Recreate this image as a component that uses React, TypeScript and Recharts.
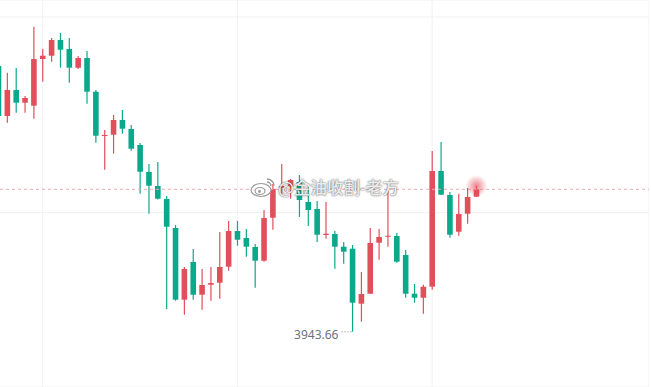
import { ComposedChart, Bar, XAxis, YAxis, CartesianGrid, ReferenceLine, ReferenceDot } from "recharts";

// hourly candles, oldest first
const opens = [
  4076.51, 4051.51, 4064.51, 4058.16, 4056.66, 4080.01, 4081.66, 4089.51, 4085.01, 4075.66,
  4080.51, 4063.66, 4041.66, 4042.16, 4049.51, 4045.01, 4037.01, 4023.51, 4016.51, 4010.01,
  3995.51, 3959.66, 3978.51, 3962.16, 3967.16, 3968.16, 3976.16, 3994.01, 3990.51, 3986.01,
  3979.16, 4000.66, 4015.51, 4016.16, 4018.51, 4008.51, 4005.01, 3992.01, 3992.51, 3986.16,
  3985.16, 3957.66, 3962.66, 3988.16, 3991.16, 3991.51, 3982.01, 3962.66, 3960.66, 3966.16,
  4024.01, 4012.01, 3993.66, 4002.66, 4011.16,
];
const highs = [
  4077.51, 4073.16, 4075.51, 4061.51, 4096.16, 4085.01, 4090.51, 4093.01, 4090.51, 4081.51,
  4084.01, 4064.51, 4044.51, 4052.01, 4054.51, 4047.01, 4038.01, 4027.51, 4028.51, 4011.51,
  3997.01, 3976.01, 3985.01, 3975.01, 3976.01, 3993.51, 3999.01, 3999.01, 3995.01, 3987.51,
  4004.51, 4017.51, 4027.51, 4020.01, 4022.01, 4016.01, 4009.01, 4008.51, 3994.01, 3988.51,
  3987.01, 3973.51, 3995.51, 3995.01, 4014.01, 3993.01, 3984.51, 3967.51, 3967.16, 4034.01,
  4038.51, 4013.51, 4012.66, 4015.51, 4016.51,
];
const lows = [
  4050.51, 4048.16, 4053.16, 4053.16, 4050.16, 4068.66, 4078.66, 4075.66, 4068.16, 4075.01,
  4057.66, 4038.16, 4024.66, 4032.66, 4042.66, 4034.16, 4012.66, 4002.66, 4009.76, 3955.01,
  3959.16, 3952.16, 3959.66, 3954.66, 3959.16, 3960.16, 3974.16, 3986.66, 3981.16, 3965.66,
  3978.66, 3994.66, 4012.01, 4010.16, 4001.01, 3996.51, 3988.51, 3990.16, 3975.16, 3977.66,
  3943.66, 3948.66, 3962.51, 3979.66, 3986.16, 3978.16, 3960.66, 3958.16, 3952.66, 3964.66,
  4012.01, 3990.66, 3991.66, 3997.66, 4011.01,
];
const closes = [
  4051.51, 4064.51, 4058.16, 4060.51, 4080.01, 4081.66, 4089.51, 4084.66, 4075.66, 4080.51,
  4063.66, 4041.66, 4042.01, 4049.51, 4045.16, 4035.16, 4023.66, 4016.66, 4010.16, 3996.16,
  3959.66, 3975.01, 3962.16, 3967.01, 3968.01, 3976.01, 3994.01, 3989.66, 3986.16, 3979.16,
  4000.51, 4015.01, 4016.51, 4019.51, 4009.51, 4004.51, 3992.16, 3992.66, 3986.16, 3983.66,
  3958.16, 3962.51, 3988.01, 3991.01, 3991.66, 3978.66, 3962.66, 3960.66, 3966.16, 4024.01,
  4012.16, 3992.16, 4002.51, 4011.01, 4014.86,
];
const futureSlots = 19;
const gridCandles = [5, 27, 49];
const gridPrices = [4101.0, 4003.3];
const lowIndex = 40;
const watermark = "@金油收割-老方";

const RED = "#e04f5a";
const GREEN = "#0ba98b";

const data = [
  ...opens.map((o, i) => ({ t: i, o, h: highs[i], l: lows[i], c: closes[i] })),
  ...Array.from({ length: futureSlots }, (_, k) => ({ t: opens.length + k })),
];
const last = closes.length - 1;

function Candle(props: any) {
  const { x, y, width, height, payload } = props;
  if (payload == null || payload.h == null) return null;
  const { o, h, l, c } = payload;
  const span = h - l;
  const k = span > 0 ? height / span : 0;
  const yAt = (v: number) => y + (h - v) * k;
  const color = c >= o ? RED : GREEN;
  const cx = x + width / 2;
  const top = yAt(Math.max(o, c));
  const bot = yAt(Math.min(o, c));
  return (
    <g>
      <line x1={cx} x2={cx} y1={y} y2={y + height} stroke={color} strokeWidth={1.2} />
      <rect x={cx - 2.8} y={top} width={5.6} height={Math.max(bot - top, 1)} fill={color} />
    </g>
  );
}

function Glow(props: any) {
  const { cx, cy } = props;
  return (
    <g>
      <defs>
        <radialGradient id="glow">
          <stop offset="0%" stopColor={RED} stopOpacity={0.7} />
          <stop offset="100%" stopColor={RED} stopOpacity={0} />
        </radialGradient>
      </defs>
      <circle cx={cx} cy={cy} r={11} fill="url(#glow)" />
    </g>
  );
}

function LowLabel(props: any) {
  const { cx, cy } = props;
  return (
    <g>
      <line x1={cx - 1} x2={cx - 11} y1={cy} y2={cy} stroke="#8a8e99" strokeDasharray="1 2" />
      <text x={cx - 14} y={cy + 7.5} textAnchor="end" fontSize={12} fill="#6e717c"
        fontFamily="'Noto Sans', sans-serif">
        {lows[lowIndex].toFixed(2)}
      </text>
    </g>
  );
}

export default function App() {
  return (
    <div style={{ position: "absolute", left: 0, top: 0, width: 651, height: 387, overflow: "hidden", background: "#fff" }}>
      <div style={{ position: "absolute", left: -6, top: 0 }}>
        <ComposedChart width={655} height={387} data={data} margin={{ top: 0, right: 0, bottom: 0, left: 0 }}
          barCategoryGap={0}>
          <CartesianGrid stroke="#f1f1f3" />
          <XAxis dataKey="t" type="category" hide ticks={gridCandles} interval={0} />
          <YAxis hide domain={[3916.01, 4109.51]} allowDataOverflow ticks={gridPrices} />
          <ReferenceLine y={closes[last]} stroke="#eeaab0" strokeDasharray="3 3" />
          <Bar dataKey={(d: any) => (d.h == null ? null : [d.l, d.h])} shape={Candle} isAnimationActive={false} />
          <ReferenceDot x={last} y={highs[last]} r={11} shape={Glow} />
          <ReferenceDot x={lowIndex} y={lows[lowIndex]} r={1} shape={LowLabel} />
        </ComposedChart>
      </div>
      <div style={{ position: "absolute", left: 250, top: 175, display: "flex", alignItems: "center", gap: 2,
        fontFamily: "'Noto Sans CJK SC', sans-serif", fontSize: 16.5, fontWeight: 500, color: "rgba(255,255,255,0.9)",
        textShadow: "0 0 2px rgba(60,60,60,0.7), 0 0 1px rgba(60,60,60,0.6)" }}>
        <svg width={26} height={22} viewBox="0 0 26 22">
          <ellipse cx={11} cy={14} rx={10} ry={6.5} fill="rgba(255,255,255,0.9)" stroke="#9a9a9a" strokeWidth={1.2} />
          <ellipse cx={10} cy={15} rx={5} ry={3.5} fill="none" stroke="#9a9a9a" strokeWidth={1.2} />
          <circle cx={9.5} cy={15.5} r={1.4} fill="#9a9a9a" />
          <path d="M17 3 A7 7 0 0 1 24 10" fill="none" stroke="#9a9a9a" strokeWidth={1.4} />
          <path d="M17 6 A4 4 0 0 1 21 10" fill="none" stroke="#9a9a9a" strokeWidth={1.4} />
        </svg>
        <span>{watermark}</span>
      </div>
    </div>
  );
}
